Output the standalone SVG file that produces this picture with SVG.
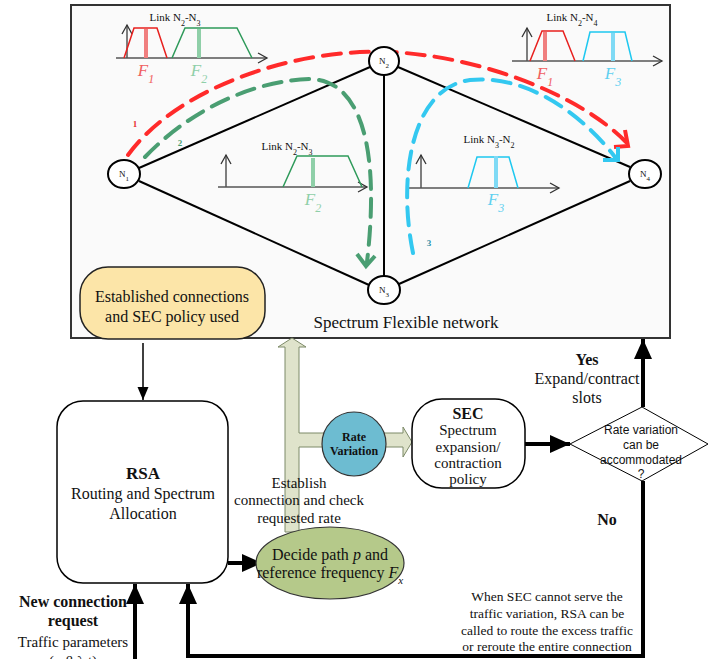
<svg xmlns="http://www.w3.org/2000/svg" width="727" height="659" viewBox="0 0 727 659">
<defs>
<style>
.serif{font-family:"Liberation Serif","Times New Roman",serif;fill:#111}
.sans{font-family:"Liberation Sans",Arial,sans-serif;fill:#111}
.node{fill:#fff;stroke:#000;stroke-width:2}
.link{stroke:#000;stroke-width:2;fill:none}
.axis{stroke:#555;stroke-width:1.5;fill:none}
.dash{fill:none;stroke-width:4;stroke-dasharray:18 10;stroke-linecap:round}
.thick{stroke:#000;stroke-width:4;fill:none}
.hollow{fill:#dfe3cb;stroke:#7d8a68;stroke-width:1}
.lbl{font-size:9px}
.link-t{font-size:11px}
.F{font-size:17px;font-style:italic}
</style>
<marker id="ax" markerUnits="userSpaceOnUse" markerWidth="12" markerHeight="12" refX="10" refY="6" orient="auto">
<path d="M1,1 L10,6 L1,11" fill="none" stroke="#333" stroke-width="1.3"/>
</marker>
<marker id="thin" markerUnits="userSpaceOnUse" markerWidth="14" markerHeight="14" refX="13" refY="7" orient="auto">
<path d="M0,1.5 L13,7 L0,12.5 Z" fill="#000"/>
</marker>
<marker id="big" markerUnits="userSpaceOnUse" markerWidth="22" markerHeight="20" refX="20" refY="10" orient="auto">
<path d="M0,1 L20,10 L0,19 Z" fill="#000"/>
</marker>
</defs>

<g id="network-box">
<rect x="71" y="5" width="599" height="333" fill="#fafafa" stroke="#333" stroke-width="2"/>
<text class="serif" x="406" y="328" font-size="17" text-anchor="middle">Spectrum Flexible network</text>
</g>

<g id="links">
<line class="link" x1="139" y1="168" x2="370" y2="67"/>
<line class="link" x1="139" y1="181" x2="369" y2="285"/>
<line class="link" x1="384" y1="75" x2="384" y2="276"/>
<line class="link" x1="398" y1="67" x2="630" y2="167"/>
<line class="link" x1="399" y1="284" x2="630" y2="181"/>
</g>

<g id="spectrum-top-left">
<text class="serif link-t" x="175" y="21" text-anchor="middle">Link N<tspan baseline-shift="sub" font-size="8">2</tspan>-N<tspan baseline-shift="sub" font-size="8">3</tspan></text>
<line class="axis" x1="116" y1="58" x2="267" y2="58" marker-end="url(#ax)"/>
<line class="axis" x1="127" y1="58" x2="127" y2="25" marker-end="url(#ax)"/>
<polyline points="124,58 134,28 157,28 167,58" fill="none" stroke="#e8201e" stroke-width="1.5"/>
<line x1="146" y1="29" x2="146" y2="58" stroke="#f07f7f" stroke-width="4"/>
<text class="serif F" x="146" y="76" text-anchor="middle" style="fill:#f06060">F<tspan baseline-shift="sub" font-size="12">1</tspan></text>
<polyline points="172,58 185,28 237,28 252,58" fill="none" stroke="#2e9a5a" stroke-width="1.5"/>
<line x1="199" y1="29" x2="199" y2="58" stroke="#8fcfa8" stroke-width="4"/>
<text class="serif F" x="199" y="76" text-anchor="middle" style="fill:#8fcfa8">F<tspan baseline-shift="sub" font-size="12">2</tspan></text>
</g>

<g id="spectrum-top-right">
<text class="serif link-t" x="572" y="21" text-anchor="middle">Link N<tspan baseline-shift="sub" font-size="8">2</tspan>-N<tspan baseline-shift="sub" font-size="8">4</tspan></text>
<line class="axis" x1="512" y1="61" x2="662" y2="61" marker-end="url(#ax)"/>
<line class="axis" x1="527" y1="61" x2="527" y2="28" marker-end="url(#ax)"/>
<polyline points="530,61 542,31 563,31 575,61" fill="none" stroke="#e8201e" stroke-width="1.5"/>
<line x1="545" y1="32" x2="545" y2="61" stroke="#f07f7f" stroke-width="4"/>
<text class="serif F" x="545" y="79" text-anchor="middle" style="fill:#f06060">F<tspan baseline-shift="sub" font-size="12">1</tspan></text>
<polyline points="583,61 590,32 625,32 632,61" fill="none" stroke="#1ec8f0" stroke-width="1.5"/>
<line x1="613" y1="33" x2="613" y2="61" stroke="#7fdaf5" stroke-width="4"/>
<text class="serif F" x="613" y="79" text-anchor="middle" style="fill:#5fd0f0">F<tspan baseline-shift="sub" font-size="12">3</tspan></text>
</g>

<g id="spectrum-mid-left">
<text class="serif link-t" x="287" y="150" text-anchor="middle">Link N<tspan baseline-shift="sub" font-size="8">2</tspan>-N<tspan baseline-shift="sub" font-size="8">3</tspan></text>
<line class="axis" x1="218" y1="187" x2="367" y2="187" marker-end="url(#ax)"/>
<line class="axis" x1="226" y1="187" x2="226" y2="155" marker-end="url(#ax)"/>
<polyline points="283,187 297,156 348,156 362,187" fill="none" stroke="#2e9a5a" stroke-width="1.5"/>
<line x1="313" y1="158" x2="313" y2="187" stroke="#8fcfa8" stroke-width="4"/>
<text class="serif F" x="313" y="205" text-anchor="middle" style="fill:#8fcfa8">F<tspan baseline-shift="sub" font-size="12">2</tspan></text>
</g>

<g id="spectrum-mid-right">
<text class="serif link-t" x="489" y="143" text-anchor="middle">Link N<tspan baseline-shift="sub" font-size="8">3</tspan>-N<tspan baseline-shift="sub" font-size="8">2</tspan></text>
<line class="axis" x1="409" y1="188" x2="559" y2="188" marker-end="url(#ax)"/>
<line class="axis" x1="421" y1="188" x2="421" y2="155" marker-end="url(#ax)"/>
<polyline points="468,188 477,157 509,157 518,188" fill="none" stroke="#1ec8f0" stroke-width="1.5"/>
<line x1="496" y1="156" x2="496" y2="188" stroke="#7fdaf5" stroke-width="4"/>
<text class="serif F" x="496" y="205" text-anchor="middle" style="fill:#5fd0f0">F<tspan baseline-shift="sub" font-size="12">3</tspan></text>
</g>

<g id="paths">
<path class="dash" stroke="#ff2a2a" d="M128,155 C175,90 290,48 390,52 C480,56 580,95 626,142"/>
<polyline points="625,130 628,146 614,147" fill="none" stroke="#ff2a2a" stroke-width="4" stroke-linejoin="miter"/>
<text class="serif" x="135" y="127" font-size="9" font-weight="bold" text-anchor="middle" style="fill:#e83030">1</text>
<path class="dash" stroke="#4a9e72" d="M145,157 C195,105 260,80 310,79 C362,80 380,150 367,262"/>
<polyline points="357,254 366,266 375,256" fill="none" stroke="#4a9e72" stroke-width="4"/>
<text class="serif" x="180" y="146" font-size="9" font-weight="bold" text-anchor="middle" style="fill:#4a9e72">2</text>
<path class="dash" stroke="#33c8f0" d="M413,253 C398,180 410,88 470,80 C530,74 585,118 615,157"/>
<polyline points="618,147 618,160 603,160" fill="none" stroke="#33c8f0" stroke-width="4"/>
<text class="serif" x="429" y="246" font-size="9" font-weight="bold" text-anchor="middle" style="fill:#2a8fa8">3</text>
</g>

<g id="node-N1">
<ellipse class="node" cx="124" cy="174" rx="16" ry="14"/>
<text class="serif lbl" x="124" y="177" text-anchor="middle">N<tspan baseline-shift="sub" font-size="7">1</tspan></text>
</g>
<g id="node-N2">
<ellipse class="node" cx="384" cy="61" rx="15" ry="14"/>
<text class="serif lbl" x="384" y="64" text-anchor="middle">N<tspan baseline-shift="sub" font-size="7">2</tspan></text>
</g>
<g id="node-N3">
<ellipse class="node" cx="384" cy="290" rx="16" ry="14"/>
<text class="serif lbl" x="384" y="293" text-anchor="middle">N<tspan baseline-shift="sub" font-size="7">3</tspan></text>
</g>
<g id="node-N4">
<ellipse class="node" cx="645" cy="174" rx="16" ry="14"/>
<text class="serif lbl" x="645" y="177" text-anchor="middle">N<tspan baseline-shift="sub" font-size="7">4</tspan></text>
</g>

<g id="established">
<rect x="80" y="267" width="185" height="72" rx="28" ry="28" fill="#fce5a8" stroke="#222" stroke-width="1.5"/>
<text class="serif" x="172" y="302" font-size="16" text-anchor="middle">Established connections</text>
<text class="serif" x="172" y="322" font-size="16" text-anchor="middle">and SEC policy used</text>
</g>

<g id="connectors">
<line x1="143" y1="343" x2="143" y2="400" stroke="#000" stroke-width="1.5" marker-end="url(#thin)"/>
<line class="thick" x1="228" y1="563" x2="262" y2="563" marker-end="url(#big)"/>
<line class="thick" x1="525" y1="444" x2="570" y2="444" marker-end="url(#big)"/>
<line class="thick" x1="643" y1="407" x2="643" y2="339" marker-end="url(#big)"/>
<polyline class="thick" points="643,481 643,656 188,656 188,584" marker-end="url(#big)"/>
<line class="thick" x1="135" y1="659" x2="135" y2="584" marker-end="url(#big)"/>
<polygon class="hollow" points="285,532 285,347 278,347 292,338 306,347 299,347 299,433 326,433 326,447 299,447 299,532"/>
<polygon class="hollow" points="384,433 403,433 403,427 412,442 403,457 403,447 384,447"/>
</g>

<g id="rsa">
<rect x="57" y="401" width="171" height="182" rx="26" ry="26" fill="#fff" stroke="#000" stroke-width="1.5"/>
<text class="serif" x="143" y="479" font-size="17" font-weight="bold" text-anchor="middle">RSA</text>
<text class="serif" x="143" y="499" font-size="16" text-anchor="middle">Routing and Spectrum</text>
<text class="serif" x="143" y="519" font-size="16" text-anchor="middle">Allocation</text>
</g>

<g id="decide">
<ellipse cx="330" cy="563" rx="74" ry="36" fill="#b5c98a" stroke="#333" stroke-width="1.2"/>
<text class="serif" x="330" y="560" font-size="16" text-anchor="middle">Decide path <tspan font-style="italic">p</tspan> and</text>
<text class="serif" x="330" y="578" font-size="16" text-anchor="middle">reference frequency <tspan font-style="italic">F<tspan baseline-shift="sub" font-size="11">x</tspan></tspan></text>
</g>

<g id="establish-label">
<text class="serif" x="299" y="488" font-size="15" text-anchor="middle">Establish</text>
<text class="serif" x="299" y="505" font-size="15" text-anchor="middle">connection and check</text>
<text class="serif" x="299" y="523" font-size="15" text-anchor="middle">requested rate</text>
</g>

<g id="rate-variation">
<circle cx="354" cy="444" r="32" fill="#6dbcd1" stroke="#333" stroke-width="1.2"/>
<text class="serif" x="354" y="441" font-size="12" font-weight="bold" text-anchor="middle">Rate</text>
<text class="serif" x="354" y="455" font-size="12" font-weight="bold" text-anchor="middle">Variation</text>
</g>

<g id="sec">
<rect x="412" y="399" width="113" height="89" rx="30" ry="30" fill="#fff" stroke="#000" stroke-width="1.5"/>
<text class="serif" x="468" y="419" font-size="16" font-weight="bold" text-anchor="middle">SEC</text>
<text class="serif" x="468" y="435" font-size="15" text-anchor="middle">Spectrum</text>
<text class="serif" x="468" y="452" font-size="15" text-anchor="middle">expansion/</text>
<text class="serif" x="468" y="468" font-size="15" text-anchor="middle">contraction</text>
<text class="serif" x="468" y="484" font-size="15" text-anchor="middle">policy</text>
</g>

<g id="decision">
<polygon points="570,444 642,407 708,444 642,481" fill="#fff" stroke="#000" stroke-width="1"/>
<text class="sans" x="641" y="434" font-size="12" text-anchor="middle">Rate variation</text>
<text class="sans" x="641" y="449" font-size="12" text-anchor="middle">can be</text>
<text class="sans" x="641" y="464" font-size="12" text-anchor="middle">accommodated</text>
<text class="sans" x="641" y="478" font-size="12" text-anchor="middle">?</text>
</g>

<g id="labels">
<text class="serif" x="587" y="365" font-size="16" font-weight="bold" text-anchor="middle">Yes</text>
<text class="serif" x="587" y="384" font-size="16" text-anchor="middle">Expand/contract</text>
<text class="serif" x="587" y="403" font-size="16" text-anchor="middle">slots</text>
<text class="serif" x="607" y="525" font-size="16" font-weight="bold" text-anchor="middle">No</text>
<text class="serif" x="547" y="601" font-size="13.5" text-anchor="middle">When SEC cannot serve the</text>
<text class="serif" x="547" y="618" font-size="13.5" text-anchor="middle">traffic variation, RSA can be</text>
<text class="serif" x="547" y="635" font-size="13.5" text-anchor="middle">called to route the excess traffic</text>
<text class="serif" x="547" y="651" font-size="13.5" text-anchor="middle">or reroute the entire connection</text>
<text class="serif" x="73" y="607" font-size="16" font-weight="bold" text-anchor="middle">New connection</text>
<text class="serif" x="73" y="626" font-size="16" font-weight="bold" text-anchor="middle">request</text>
<text class="serif" x="73" y="647" font-size="15" text-anchor="middle">Traffic parameters</text>
<text class="serif" x="73" y="666" font-size="15" text-anchor="middle">(α,β,λ,t)</text>
</g>
</svg>
